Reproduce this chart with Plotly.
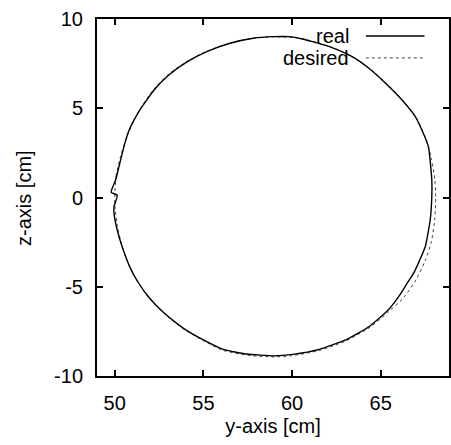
import plotly.graph_objects as go

real_y = [49.96, 50.14, 49.80, 50.05, 50.24, 50.52, 50.78, 51.36, 52.22, 53.05, 54.10, 55.19,
          56.50, 57.81, 58.90, 59.84, 60.59, 61.15, 62.25, 63.39, 64.33, 65.27, 66.20, 66.95,
          67.40, 67.69, 67.88, 67.88, 67.79, 67.51, 67.18, 66.85, 66.52, 66.08, 65.42, 64.33,
          63.02, 61.53, 60.03, 59.00, 57.43, 56.12, 55.00, 53.88, 52.80, 51.90, 51.30, 50.90,
          50.42, 50.14, 49.96, 49.96]
real_z = [-0.50, 0.12, 0.30, 0.98, 1.73, 2.85, 3.70, 4.81, 6.02, 6.86, 7.61, 8.17,
          8.64, 8.92, 9.01, 9.01, 8.88, 8.73, 8.40, 7.89, 7.24, 6.40, 5.46, 4.53,
          3.60, 2.85, 0.98, 0.04, -1.26, -2.76, -3.55, -4.25, -4.75, -5.45, -6.30, -7.24,
          -7.98, -8.51, -8.79, -8.87, -8.77, -8.51, -7.98, -7.33, -6.49, -5.56, -4.72, -4.00,
          -2.76, -1.82, -0.89, -0.50]

# Desired trajectory
des_y = [50.00, 50.08, 50.30, 50.68, 51.30, 52.15, 53.00, 54.07, 55.20, 56.50, 57.80, 59.00,
         60.20, 61.30, 62.40, 63.40, 64.35, 65.30, 66.25, 67.00, 67.50, 67.85, 68.05, 68.10,
         68.05, 67.85, 67.50, 67.00, 66.30, 65.45, 64.35, 63.00, 61.50, 60.00, 59.00, 57.50,
         56.10, 55.00, 53.85, 52.80, 51.85, 51.25, 50.80, 50.40, 50.15, 50.03, 50.00]
des_z = [0.00, 1.20, 2.20, 3.40, 4.75, 6.00, 6.88, 7.62, 8.20, 8.65, 8.93, 9.00,
         8.95, 8.72, 8.35, 7.88, 7.25, 6.42, 5.45, 4.45, 3.40, 2.20, 1.00, 0.00,
         -1.20, -2.50, -3.55, -4.60, -5.60, -6.40, -7.30, -8.05, -8.58, -8.86, -8.93, -8.84,
         -8.56, -8.02, -7.35, -6.50, -5.55, -4.65, -3.80, -2.70, -1.60, -0.70, 0.00]

x_ticks = [50, 55, 60, 65]
x_labels = ["50", "55", "60", "65"]
y_ticks = [-10, -5, 0, 5, 10]
y_labels = ["-10", "-5", "0", "5", "10"]
series_names = ["real", "desired"]

FONT = "Liberation Sans, Arial, Helvetica, sans-serif"
FS = 20

fig = go.Figure()
fig.add_trace(go.Scatter(x=des_y, y=des_z, mode="lines", name=series_names[1],
                         line=dict(color="#444444", width=1, dash="dot",
                                   shape="spline", smoothing=0.6)))
fig.add_trace(go.Scatter(x=real_y, y=real_z, mode="lines", name=series_names[0],
                         line=dict(color="black", width=1.4, shape="spline", smoothing=0.5)))

# gnuplot-style legend: text right-aligned, key sample to the right
leg_x_text = 63.32
leg_x0, leg_x1 = 64.16, 67.47
leg_rows = [9.05, 7.82]
styles = [dict(color="black", width=1.4), dict(color="#444444", width=1, dash="dot")]
for name, yy, st in zip(series_names, leg_rows, styles):
    fig.add_annotation(x=leg_x_text, y=yy, xref="x", yref="y", text=name, showarrow=False,
                       xanchor="right", yanchor="middle",
                       font=dict(family=FONT, size=FS, color="black"))
    fig.add_shape(type="line", xref="x", yref="y", x0=leg_x0, x1=leg_x1, y0=yy, y1=yy, line=st)

# y-axis title placed like gnuplot's
fig.add_annotation(x=-0.209, y=0.5, xref="paper", yref="paper", text="z-axis [cm]",
                   textangle=-90, showarrow=False, xanchor="center", yanchor="middle",
                   font=dict(family=FONT, size=FS, color="black"))

axis_common = dict(showgrid=False, zeroline=False, showline=True, linecolor="black",
                   linewidth=2, mirror="ticks", ticks="inside", ticklen=6, tickwidth=1.5,
                   tickcolor="black", tickfont=dict(family=FONT, size=FS, color="black"))

fig.update_layout(
    width=451, height=445,
    margin=dict(l=97, r=0, t=19, b=69),
    paper_bgcolor="white", plot_bgcolor="white",
    showlegend=False,
    xaxis=dict(range=[49, 68.85], tickvals=x_ticks, ticktext=x_labels, ticklabelstandoff=8,
               title=dict(text="y-axis [cm]", font=dict(family=FONT, size=FS, color="black"),
                          standoff=6),
               **axis_common),
    yaxis=dict(range=[-10, 10], tickvals=y_ticks, ticktext=y_labels, ticklabelstandoff=8,
               **axis_common),
)

fig.write_html("out.html")
